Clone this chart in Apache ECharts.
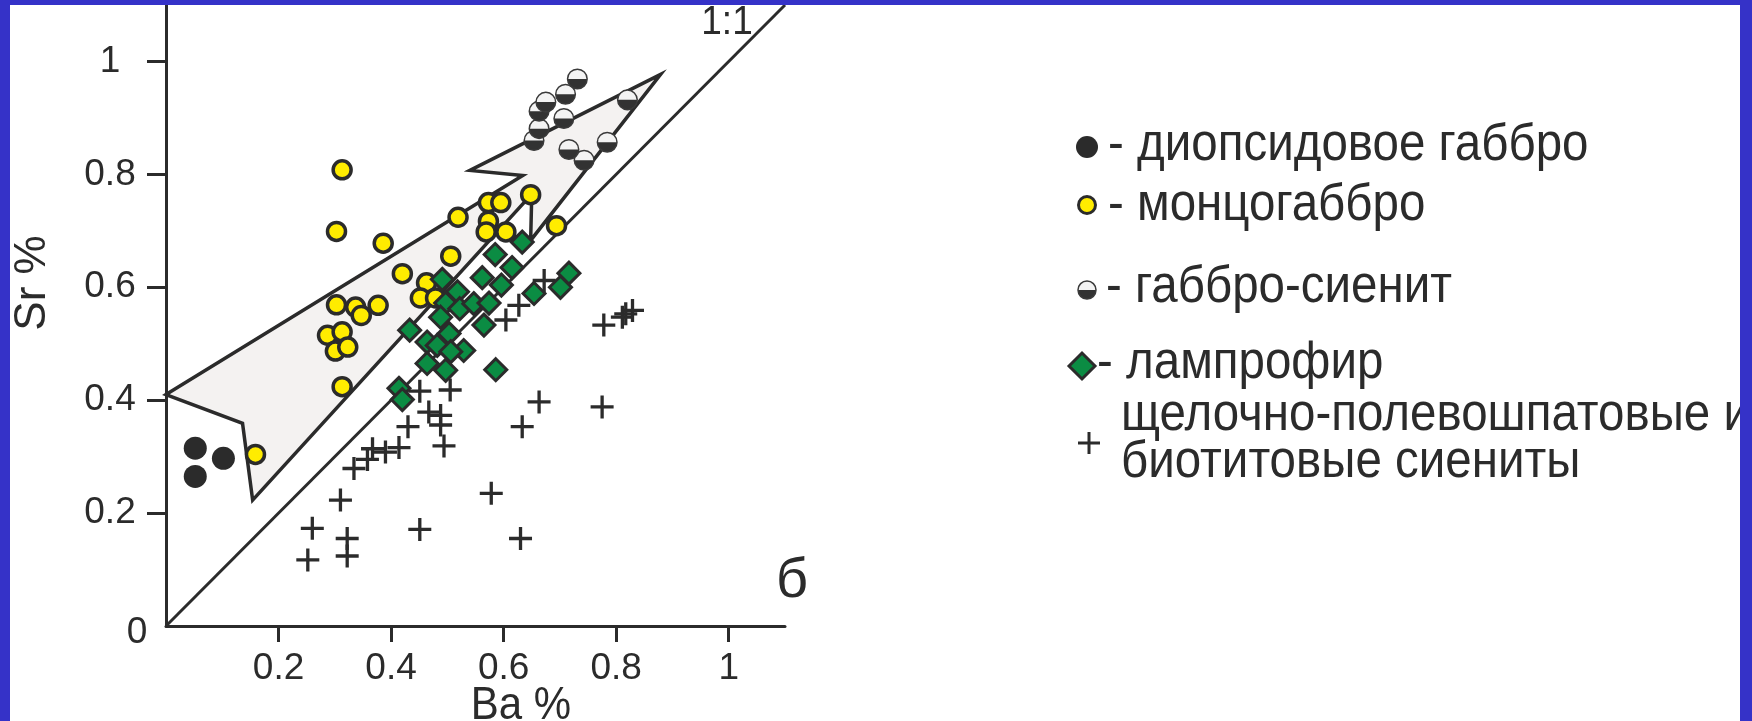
<!DOCTYPE html>
<html>
<head>
<meta charset="utf-8">
<script src="https://cdn.jsdelivr.net/npm/echarts@6/dist/echarts.min.js"></script>
<style>
  html, body { margin: 0; padding: 0; background: #ffffff; }
  #chart { width: 1752px; height: 721px; }
</style>
</head>
<body>
<div id="chart"></div>
<script>
// Sr vs Ba diagram (wt %) for the rock groups of the complex

// axis ticks
const baTicks = [0.2, 0.4, 0.6, 0.8, 1];
const srTicks = [0.2, 0.4, 0.6, 0.8, 1];

// outline of the arrow-shaped field (vertices, Ba % / Sr %)
const arrowBa = [0, 0.634, 0.540, 0.879, 0.648, 0.650, 0.154, 0.136];
const arrowSr = [0.41, 0.798, 0.807, 0.977, 0.683, 0.765, 0.223, 0.359];

// 1:1 reference line
const oneToOne = [[0, 0], [1.1, 1.1]];

// [Ba %, Sr %]
const diopsideGabbro = [[0.052, 0.315], [0.102, 0.297], [0.052, 0.265]];

const monzoGabbro = [
  [0.313, 0.808], [0.303, 0.699], [0.386, 0.678], [0.519, 0.724], [0.573, 0.750],
  [0.595, 0.750], [0.573, 0.717], [0.569, 0.698], [0.604, 0.698], [0.648, 0.764],
  [0.506, 0.655], [0.420, 0.624], [0.463, 0.608], [0.452, 0.581], [0.479, 0.581],
  [0.303, 0.569], [0.337, 0.565], [0.347, 0.550], [0.377, 0.568], [0.287, 0.515],
  [0.313, 0.521], [0.301, 0.487], [0.323, 0.494], [0.313, 0.424], [0.159, 0.304],
  [0.694, 0.709]
];

const gabbroSyenite = [
  [0.743, 0.825], [0.716, 0.844], [0.654, 0.860], [0.784, 0.857], [0.663, 0.881],
  [0.707, 0.899], [0.663, 0.912], [0.675, 0.928], [0.820, 0.932], [0.710, 0.942],
  [0.731, 0.969]
];

const lamprophyre = [
  [0.633, 0.680], [0.585, 0.658], [0.615, 0.635], [0.562, 0.617], [0.596, 0.604],
  [0.491, 0.614], [0.518, 0.592], [0.497, 0.572], [0.522, 0.562], [0.547, 0.571],
  [0.574, 0.572], [0.654, 0.589], [0.701, 0.600], [0.716, 0.625], [0.488, 0.547],
  [0.565, 0.533], [0.433, 0.524], [0.503, 0.518], [0.464, 0.503], [0.482, 0.497],
  [0.529, 0.488], [0.506, 0.486], [0.464, 0.465], [0.497, 0.453], [0.586, 0.454],
  [0.414, 0.421], [0.420, 0.401]
];

const syenites = [
  [0.663, 0.397], [0.633, 0.353], [0.578, 0.235], [0.630, 0.155], [0.451, 0.171],
  [0.310, 0.223], [0.260, 0.173], [0.322, 0.155], [0.322, 0.124], [0.252, 0.117],
  [0.334, 0.279], [0.358, 0.295], [0.367, 0.314], [0.390, 0.308], [0.414, 0.316],
  [0.430, 0.353], [0.494, 0.319], [0.488, 0.356], [0.488, 0.373], [0.467, 0.379],
  [0.451, 0.416], [0.505, 0.418], [0.778, 0.533], [0.811, 0.547], [0.817, 0.553],
  [0.829, 0.559], [0.604, 0.542], [0.627, 0.568], [0.672, 0.612], [0.775, 0.388]
];

// legend captions
const legendRows = [
  '- диопсидовое габбро',
  '- монцогаббро',
  '- габбро-сиенит',
  '- лампрофир',
  'щелочно-полевошпатовые и',
  'биотитовые сиениты'
];

const INK = '#2b2b2b';
const YELLOW = '#ffec00';
const GREEN = '#0b8c43';
const FIELD = '#f4f2f1';
const FRAME = '#3532c8';
const FONT = "'Liberation Sans', Arial, sans-serif";

const crossPath = 'path://M0,11L22,11M11,0L11,22';

function halfBall(cx, cy, r) {
  return [
    { type: 'circle', shape: { cx, cy, r }, style: { fill: '#f3f3f3' } },
    { type: 'sector', shape: { cx, cy, r0: 0, r, startAngle: 0, endAngle: Math.PI, clockwise: true }, style: { fill: '#323232' } },
    { type: 'circle', shape: { cx, cy, r }, style: { fill: 'none', stroke: '#3a3a3a', lineWidth: 1.5 } }
  ];
}

// text drawn slightly tall, like the condensed lettering of the figure
function label(text, x, y, size, align, extra) {
  return Object.assign({
    type: 'text', x: x, y: y, scaleY: 1.1,
    style: { text: text, font: size + 'px ' + FONT, fill: INK, align: align, verticalAlign: 'middle' }
  }, extra || {});
}

const chart = echarts.init(document.getElementById('chart'), null, { renderer: 'canvas', width: 1752, height: 721 });

const axisCommon = {
  type: 'value',
  min: 0,
  max: 1.1,
  interval: 0.2,
  splitLine: { show: false },
  axisLine: { show: true, onZero: false, lineStyle: { color: INK, width: 3 } },
  axisTick: { show: true, inside: false, lineStyle: { color: INK, width: 3 } },
  axisLabel: { color: INK, fontFamily: FONT, fontSize: 37 }
};

const option = {
  backgroundColor: '#ffffff',
  animation: false,
  grid: { left: 166, top: 5, width: 619, height: 621, containLabel: false, outerBoundsMode: 'none' },
  xAxis: Object.assign({}, axisCommon, {
    axisTick: Object.assign({}, axisCommon.axisTick, { length: 16, customValues: baTicks }),
    axisLabel: Object.assign({}, axisCommon.axisLabel, { customValues: baTicks, margin: 24 })
  }),
  yAxis: Object.assign({}, axisCommon, {
    axisTick: Object.assign({}, axisCommon.axisTick, { length: 19, customValues: srTicks }),
    axisLabel: Object.assign({}, axisCommon.axisLabel, { customValues: srTicks, margin: 56, align: 'center' })
  }),
  series: [
    {
      // arrow-shaped field
      type: 'custom',
      silent: true,
      clip: false,
      z: 1,
      data: [[0, 0]],
      renderItem: function (params, api) {
        const pts = arrowBa.map((b, i) => api.coord([b, arrowSr[i]]));
        return {
          type: 'polygon',
          shape: { points: pts },
          style: { fill: FIELD, stroke: INK, lineWidth: 3.5, lineJoin: 'miter' }
        };
      }
    },
    {
      type: 'line',
      silent: true,
      z: 2,
      data: oneToOne,
      symbol: 'none',
      lineStyle: { color: INK, width: 3 }
    },
    {
      name: 'диопсидовое габбро',
      type: 'scatter',
      z: 3,
      data: diopsideGabbro,
      symbol: 'circle',
      symbolSize: 23,
      itemStyle: { color: INK, opacity: 1 }
    },
    {
      name: 'монцогаббро',
      type: 'scatter',
      z: 3,
      data: monzoGabbro,
      symbol: 'circle',
      symbolSize: 18,
      itemStyle: { color: YELLOW, borderColor: INK, borderWidth: 3.5, opacity: 1 }
    },
    {
      name: 'габбро-сиенит',
      type: 'custom',
      z: 4,
      data: gabbroSyenite,
      encode: { x: 0, y: 1 },
      renderItem: function (params, api) {
        const p = api.coord([api.value(0), api.value(1)]);
        return { type: 'group', children: halfBall(p[0], p[1], 9.8) };
      }
    },
    {
      name: 'щелочно-полевошпатовые и биотитовые сиениты',
      type: 'scatter',
      z: 4,
      data: syenites,
      symbol: crossPath,
      symbolSize: 23,
      itemStyle: { color: INK, borderColor: INK, borderWidth: 3.3, opacity: 1 }
    },
    {
      name: 'лампрофир',
      type: 'scatter',
      z: 5,
      data: lamprophyre,
      symbol: 'diamond',
      symbolSize: 22,
      itemStyle: { color: GREEN, borderColor: INK, borderWidth: 3, opacity: 1 }
    }
  ],
  graphic: [
    // corner zero, axis names, line tag, panel letter
    label('0', 137, 633, 37, 'center', { scaleY: 1 }),
    label('Ba %', 521, 706, 42, 'center'),
    label('Sr %', 33, 283, 42, 'center', { rotation: Math.PI / 2, scaleY: 1.05, scaleX: 1.05 }),
    label('1:1', 727, 23, 37, 'center', { scaleY: 1.12 }),
    label('б', 792, 582, 56, 'center', { scaleY: 1 }),

    // legend markers
    { type: 'circle', shape: { cx: 1087, cy: 147, r: 11 }, style: { fill: INK } },
    { type: 'circle', shape: { cx: 1087, cy: 205, r: 8.5 }, style: { fill: YELLOW, stroke: INK, lineWidth: 3 } },
    { type: 'group', children: halfBall(1087, 290, 9) },
    { type: 'polygon', shape: { points: [[1069, 366], [1082, 353], [1095, 366], [1082, 379]] }, style: { fill: GREEN, stroke: INK, lineWidth: 3 } },
    { type: 'polyline', shape: { points: [[1078, 443], [1100, 443]] }, style: { stroke: INK, lineWidth: 3 } },
    { type: 'polyline', shape: { points: [[1089, 432], [1089, 454]] }, style: { stroke: INK, lineWidth: 3 } },

    // legend captions
    label(legendRows[0], 1108, 146, 47.5, 'left'),
    label(legendRows[1], 1108, 206, 47.5, 'left'),
    label(legendRows[2], 1106, 288, 47.5, 'left'),
    label(legendRows[3], 1097, 364, 47.5, 'left'),
    label(legendRows[4], 1121, 416, 47.5, 'left'),
    label(legendRows[5], 1121, 463, 47.5, 'left'),

    // blue frame
    { type: 'rect', z: 100, shape: { x: 0, y: 0, width: 10, height: 721 }, style: { fill: FRAME } },
    { type: 'rect', z: 100, shape: { x: 0, y: 0, width: 1752, height: 5 }, style: { fill: FRAME } },
    { type: 'rect', z: 100, shape: { x: 1740, y: 0, width: 12, height: 721 }, style: { fill: FRAME } }
  ]
};

chart.setOption(option);
</script>
</body>
</html>
